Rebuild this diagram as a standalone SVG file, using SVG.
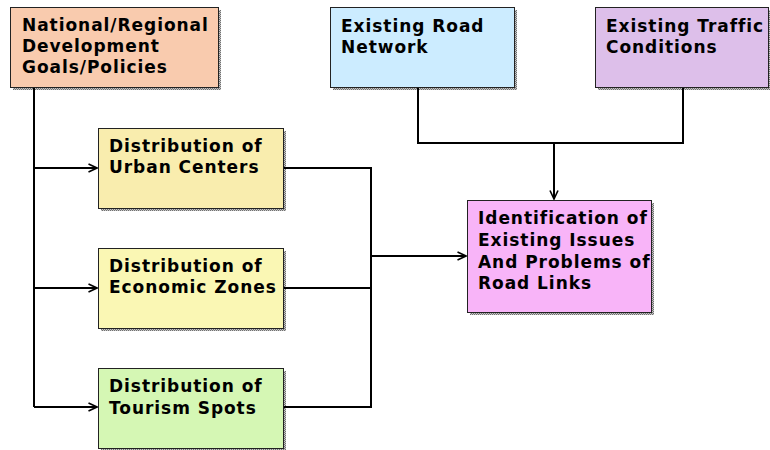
<svg xmlns="http://www.w3.org/2000/svg" width="770" height="450" viewBox="0 0 770 450">
  <defs>
    <pattern id="dots" width="2" height="2" patternUnits="userSpaceOnUse">
      <rect width="2" height="2" fill="#c8c8c8"/>
      <rect width="1" height="1" fill="#707070"/>
      <rect x="1" y="1" width="1" height="1" fill="#707070"/>
    </pattern>
    <marker id="arrow" viewBox="0 0 10 10" refX="9.5" refY="5" markerWidth="10" markerHeight="10" markerUnits="userSpaceOnUse" orient="auto">
      <path d="M1,1 L9.5,5 L1,9" fill="none" stroke="#000" stroke-width="1.6"/>
    </marker>
  </defs>
  <style>
    .shadow { fill: url(#dots); }
    .box { stroke: #222; stroke-width: 1; }
    .label { font-family: "DejaVu Sans", Verdana, sans-serif; font-weight: bold; font-size: 17px; letter-spacing: 0.95px; fill: #000; }
    .conn { fill: none; stroke: #000; stroke-width: 2; }
  </style>
  <rect width="770" height="450" fill="#fff"/>

  <g id="national-goals">
    <rect class="shadow" x="13" y="10" width="208" height="80"/>
    <rect class="box" x="10.5" y="7.5" width="208" height="80" fill="#F9CBAE"/>
    <text class="label" x="22" y="31">National/Regional</text>
    <text class="label" x="22" y="51.5">Development</text>
    <text class="label" x="22" y="72.5">Goals/Policies</text>
  </g>

  <g id="road-network">
    <rect class="shadow" x="333" y="10" width="184" height="80"/>
    <rect class="box" x="330.5" y="7.5" width="184" height="80" fill="#CCECFF"/>
    <text class="label" x="341" y="31.5">Existing Road</text>
    <text class="label" x="341" y="53">Network</text>
  </g>

  <g id="traffic-conditions">
    <rect class="shadow" x="598" y="10" width="174" height="80"/>
    <rect class="box" x="595.5" y="7.5" width="173" height="80" fill="#DDBFEA"/>
    <text class="label" x="606" y="31.5">Existing Traffic</text>
    <text class="label" x="606" y="53">Conditions</text>
  </g>

  <g id="urban-centers">
    <rect class="shadow" x="101" y="131" width="185" height="80"/>
    <rect class="box" x="98.5" y="128.5" width="185" height="80" fill="#F9EDAE"/>
    <text class="label" x="109" y="151.5">Distribution of</text>
    <text class="label" x="109" y="173">Urban Centers</text>
  </g>

  <g id="economic-zones">
    <rect class="shadow" x="101" y="251" width="185" height="80"/>
    <rect class="box" x="98.5" y="248.5" width="185" height="80" fill="#FAF7B4"/>
    <text class="label" x="109" y="271.5">Distribution of</text>
    <text class="label" x="109" y="293">Economic Zones</text>
  </g>

  <g id="tourism-spots">
    <rect class="shadow" x="101" y="371" width="185" height="79"/>
    <rect class="box" x="98.5" y="368.5" width="185" height="80" fill="#D5F7B4"/>
    <text class="label" x="109" y="391.5">Distribution of</text>
    <text class="label" x="109" y="413.5">Tourism Spots</text>
  </g>

  <g id="issues-problems">
    <rect class="shadow" x="470" y="203" width="184" height="112"/>
    <rect class="box" x="467.5" y="200.5" width="184" height="112" fill="#F8B4F8"/>
    <text class="label" x="478" y="224">Identification of</text>
    <text class="label" x="478" y="246">Existing Issues</text>
    <text class="label" x="478" y="267.5">And Problems of</text>
    <text class="label" x="478" y="289">Road Links</text>
  </g>

  <g id="connectors">
    <!-- policy spine feeding the three distribution boxes -->
    <path class="conn" d="M34,88 V407"/>
    <path class="conn" d="M34,168 H97" marker-end="url(#arrow)"/>
    <path class="conn" d="M34,288 H97" marker-end="url(#arrow)"/>
    <path class="conn" d="M34,407 H97" marker-end="url(#arrow)"/>
    <!-- distribution boxes merge into the issues box -->
    <path class="conn" d="M284,168 H371 V407 H284"/>
    <path class="conn" d="M284,288 H371"/>
    <path class="conn" d="M371,256 H466" marker-end="url(#arrow)"/>
    <!-- road network and traffic merge -->
    <path class="conn" d="M418,88 V143 H683 V88"/>
    <path class="conn" d="M554,143 V199" marker-end="url(#arrow)"/>
  </g>
</svg>
